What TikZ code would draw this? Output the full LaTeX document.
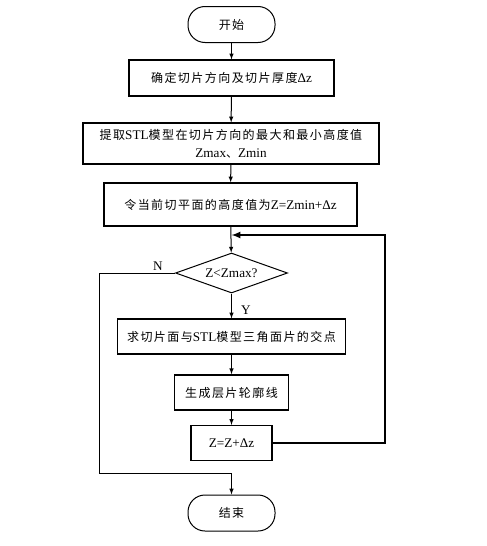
\documentclass[tikz,border=0pt]{standalone}
\usepackage{fontspec}
\setmainfont[Scale=1.1]{Liberation Serif}
\newfontfamily\cjk[LetterSpace=12]{Noto Sans CJK SC}
\usetikzlibrary{shapes.geometric}
\begin{document}
\begin{tikzpicture}[x=1pt,y=-1pt,font=\fontsize{12}{18}\selectfont,
  box/.style={draw,line width=1.2pt,inner sep=0pt,align=center},
  term/.style={draw,line width=1pt,rounded corners=17pt,minimum width=87pt,minimum height=36pt},
  test/.style={draw,diamond,line width=1pt,aspect=2.8,inner sep=1pt,minimum width=112pt,minimum height=40pt},
  link/.style={line width=1pt,-latex},
  back/.style={line width=2pt,-latex}]
\useasboundingbox (0,0) rectangle (487,546);

\node[term] (start) at (231.5,24.5) {\cjk 开始};

\node[box,minimum width=205pt,minimum height=36pt] (b1) at (231.5,78) {{\cjk 确定切片方向及切片厚度}Δz};

\node[box,minimum width=296pt,minimum height=41pt] (b2) at (231,143.5) {{\cjk 提取}STL{\cjk 模型在切片方向的最大和最小高度值}\\Zmax{\cjk 、}Zmin};

\node[box,minimum width=253pt,minimum height=43pt] (b3) at (230.5,204.5) {{\cjk 令当前切平面的高度值为}Z=Zmin+Δz};

\coordinate (join) at (231.5,235);
\coordinate (rturn) at (385,235);

\node[test] (dec) at (231.5,273) {Z<Zmax?};

\node[box,minimum width=228pt,minimum height=35pt] (b4) at (231.5,336.5) {{\cjk 求切片面与}STL{\cjk 模型三角面片的交点}};

\node[box,line width=1.5pt,minimum width=114pt,minimum height=35pt] (b5) at (231.5,392.5) {\cjk 生成层片轮廓线};

\node[box,minimum width=81pt,minimum height=35pt] (b6) at (231.5,443) {Z=Z+Δz};

\node[term] (stop) at (231.5,513) {\cjk 结束};

\coordinate (nturn) at (99,473);

\node (ylab) at (246,310) {Y};
\node (nlab) at (158,266) {N};

\draw[link] (start) -- (b1);
\draw[link] (b1) -- (b2);
\draw[link] (b2) -- (b3);
\draw[link] (b3) -- (dec);
\draw[link] (dec) -- (b4);
\draw[link] (b4) -- (b5);
\draw[link] (b5) -- (b6);
\draw[back] (b6.east) -| (rturn) -- (join);
\draw[link] (dec.west) -| (nturn) -| (stop.north);
\end{tikzpicture}
\end{document}
